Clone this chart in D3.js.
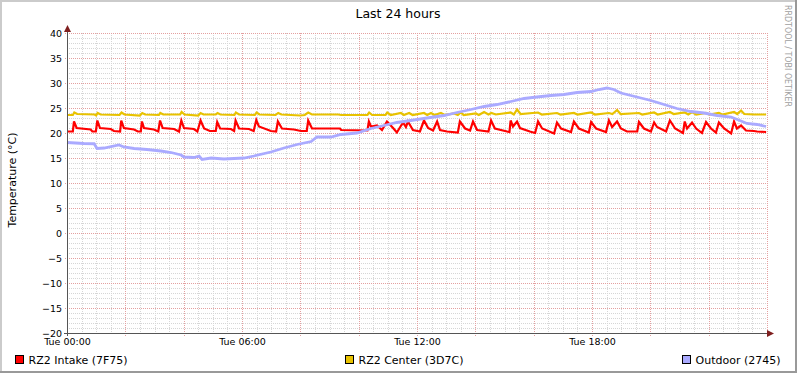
<!DOCTYPE html>
<html>
<head>
<meta charset="utf-8">
<script src="https://cdn.jsdelivr.net/npm/d3@7"></script>
<style>
body { margin: 0; background: #fff; }
svg { display: block; }
text { font-family: "DejaVu Sans", sans-serif; }
</style>
</head>
<body>
<svg width="797" height="373"></svg>
<script>
var title = "Last 24 hours";
var yLabel = "Temperature (°C)";
var watermark = "RRDTOOL / TOBI OETIKER";
var seriesNames = ["RZ2 Intake (7F75)", "RZ2 Center (3D7C)", "Outdoor (2745)"];
var seriesColors = ["#ff0000", "#e8c200", "#aaaaff"];
var yTicks = [-20, -15, -10, -5, 0, 5, 10, 15, 20, 25, 30, 35, 40];

// [hour since Tue 00:00, degrees]
var intake = [
  [0.00,20.3],[0.20,20.3],[0.24,22.3],[0.33,21.0],[0.81,20.7],[0.87,20.3],[0.99,20.3],
  [1.04,22.5],[1.13,21.0],[1.50,20.8],[1.61,20.4],[1.82,20.3],
  [1.86,22.5],[1.95,21.0],[2.30,20.7],[2.43,20.3],[2.53,20.3],
  [2.57,22.3],[2.64,21.0],[2.98,20.7],[3.13,20.3],
  [3.19,22.5],[3.28,21.0],[3.67,20.8],[3.84,20.3],
  [3.92,22.5],[4.01,21.0],[4.35,20.8],[4.47,20.3],
  [4.58,22.5],[4.70,20.9],[4.90,20.4],[5.10,20.4],
  [5.15,22.2],[5.25,20.9],[5.62,20.8],[5.73,20.4],
  [5.78,22.5],[5.90,20.9],[6.24,20.8],[6.40,20.4],
  [6.49,22.6],[6.58,21.3],[6.99,20.4],[7.17,20.3],
  [7.23,22.3],[7.37,20.9],[7.78,20.7],[8.02,20.4],[8.22,20.4],
  [8.27,22.5],[8.40,20.9],[9.36,20.9],[9.40,20.6],[10.30,20.5],
  [10.35,22.3],[10.42,21.3],[10.63,21.5],[10.80,20.6],
  [10.97,22.3],[11.18,21.0],[11.31,20.1],
  [11.52,22.1],[11.62,21.2],[11.69,22.3],[11.86,20.6],[12.10,20.3],
  [12.24,22.5],[12.38,21.0],[12.55,20.5],
  [12.69,22.3],[12.79,20.6],[13.03,20.3],[13.40,20.1],
  [13.47,22.3],[13.65,20.9],[13.82,20.5],
  [13.92,22.3],[14.06,20.6],[14.45,20.3],
  [14.54,22.5],[14.67,20.9],[15.09,20.3],[15.17,20.2],
  [15.21,22.5],[15.29,21.3],[15.43,22.3],[15.53,21.0],[15.87,20.3],[16.05,20.0],
  [16.15,22.3],[16.29,20.9],[16.70,19.9],
  [16.80,22.1],[16.94,20.9],[17.28,20.2],
  [17.38,22.3],[17.55,20.9],[17.89,20.1],
  [17.97,22.2],[18.14,20.9],[18.48,20.2],
  [18.58,22.5],[18.69,21.2],[18.86,22.3],[18.99,20.9],[19.20,20.3],[19.55,20.3],
  [19.61,22.2],[19.78,20.9],[20.02,20.3],
  [20.13,22.1],[20.23,21.2],[20.54,20.3],
  [20.67,22.5],[20.85,20.9],[21.12,20.0],
  [21.18,22.3],[21.26,20.9],[21.43,22.1],[21.57,20.9],[21.77,20.0],
  [21.91,22.2],[22.08,20.9],[22.25,20.1],
  [22.35,22.1],[22.53,20.9],[22.77,19.9],
  [22.87,22.3],[22.97,20.9],[23.11,21.5],[23.28,20.5],[23.55,20.4],[23.66,20.3],[23.97,20.2]
];

var center = [
  [0.00,23.6],[0.20,23.6],[0.25,24.1],[0.35,23.8],[0.95,23.7],[1.00,23.5],[1.05,24.0],[1.15,23.7],
  [1.80,23.6],[1.87,24.1],[1.97,23.7],[2.50,23.5],[2.58,24.0],[2.68,23.7],[3.15,23.6],[3.20,24.0],
  [3.30,23.7],[3.88,23.7],[3.93,24.2],[4.03,23.7],[4.50,23.5],[4.58,24.0],[4.68,23.7],[5.10,23.7],
  [5.16,24.0],[5.26,23.7],[5.74,23.6],[5.79,24.1],[5.90,23.7],[6.44,23.6],[6.50,24.1],[6.60,23.7],
  [7.15,23.6],[7.24,24.0],[7.35,23.7],[8.00,23.5],[8.15,23.6],[8.27,24.1],[8.40,23.7],[9.30,23.7],
  [9.40,23.6],[10.30,23.6],[10.36,24.1],[10.46,23.6],[10.92,23.6],[10.98,24.1],[11.10,23.6],
  [11.45,24.0],[11.55,23.6],[11.73,24.0],[11.85,23.6],[12.24,24.0],[12.35,23.6],[12.48,24.0],
  [12.60,23.6],[12.82,24.0],[12.95,23.6],[13.27,23.9],[13.40,23.6],[13.50,24.1],[13.60,23.6],
  [14.02,23.9],[14.12,23.6],[14.30,24.2],[14.45,23.7],[14.55,24.0],[14.70,23.7],[15.21,24.1],
  [15.32,23.7],[15.43,24.7],[15.55,23.8],[16.15,24.1],[16.28,23.7],[16.80,24.0],[16.92,23.7],
  [17.38,24.0],[17.50,23.7],[17.97,24.1],[18.10,23.7],[18.58,24.0],[18.70,23.8],[18.86,24.6],
  [18.98,23.8],[19.61,24.0],[19.72,23.7],[20.13,24.1],[20.25,23.7],[20.67,24.2],[20.80,23.8],
  [21.18,24.1],[21.30,23.7],[21.43,24.2],[21.57,23.7],[21.91,24.0],[22.02,23.7],[22.35,24.0],
  [22.47,23.7],[22.87,24.2],[22.98,23.8],[23.11,24.5],[23.22,23.8],[23.55,23.7],[23.97,23.7]
];

var outdoor = [
  [0.00,18.1],[0.58,17.9],[0.93,17.85],[1.03,16.9],[1.27,17.0],[1.78,17.6],[1.95,17.2],
  [2.30,16.9],[2.74,16.7],[3.22,16.4],[3.57,16.1],[3.91,15.6],[4.01,15.2],[4.35,15.1],
  [4.53,15.4],[4.63,14.7],[4.94,15.0],[5.38,14.8],[6.07,15.0],[6.41,15.4],[6.99,16.2],
  [7.44,17.0],[7.89,17.7],[8.37,18.3],[8.57,19.2],[9.05,19.2],[9.39,19.7],[9.94,20.0],
  [10.42,20.9],[10.87,21.5],[11.31,22.1],[11.79,22.5],[12.34,23.0],[12.93,23.5],[13.37,24.1],
  [13.85,24.7],[14.30,25.3],[14.74,25.7],[15.22,26.3],[15.67,26.9],[16.11,27.2],[16.59,27.5],
  [17.04,27.7],[17.49,28.1],[17.97,28.3],[18.24,28.7],[18.51,29.0],[18.75,28.7],[18.99,28.0],
  [19.54,27.2],[20.02,26.5],[20.47,25.7],[20.91,24.9],[21.39,24.3],[21.84,24.0],[22.29,23.5],
  [22.77,23.2],[23.11,22.4],[23.31,21.9],[23.66,21.7],[23.97,21.3]
];

var series = [intake, center, outdoor];
var lineWidths = [2.2, 2.2, 2.8];

var svg = d3.select("svg");
var plotLeft = 67, plotRight = 767, plotTop = 33, plotBottom = 333;

var day = new Date(2024, 0, 2);   // a Tuesday
var toDate = function(h) { return new Date(day.getTime() + h * 3600000); };

var x = d3.scaleTime().domain([day, toDate(24)]).range([plotLeft, plotRight]);
var y = d3.scaleLinear().domain([-20, 40]).range([plotBottom, plotTop]);

// frame
svg.append("rect").attr("width", 797).attr("height", 373).attr("fill", "#fff");
svg.append("path").attr("d", "M1,372V1H796").attr("fill", "none").attr("stroke", "#cbcbcb").attr("stroke-width", 2);
svg.append("path").attr("d", "M0,372H796V0").attr("fill", "none").attr("stroke", "#999").attr("stroke-width", 2);

// grid
var grid = svg.append("g").attr("shape-rendering", "crispEdges");
var px = function(v) { return Math.round(v) + 0.5; };

var minorY = d3.range(-19, 40).filter(function(v) { return v % 5 != 0; });
grid.selectAll(".gy").data(minorY).enter().append("line")
  .attr("x1", plotLeft).attr("x2", plotRight)
  .attr("y1", function(d) { return px(y(d)); }).attr("y2", function(d) { return px(y(d)); })
  .attr("stroke", "#d6d6d6").attr("stroke-dasharray", "1,1");

var minorX = d3.timeMinute.every(30).range(toDate(0.5), toDate(24.01)).filter(function(d) { return d.getHours() % 2 || d.getMinutes(); });
grid.selectAll(".gx").data(minorX).enter().append("line")
  .attr("x1", function(d) { return px(x(d)); }).attr("x2", function(d) { return px(x(d)); })
  .attr("y1", plotTop).attr("y2", plotBottom + 2)
  .attr("stroke", "#d6d6d6").attr("stroke-dasharray", "1,1");

grid.selectAll(".my").data(yTicks.slice(1)).enter().append("line")
  .attr("x1", plotLeft - 2).attr("x2", plotRight)
  .attr("y1", function(d) { return px(y(d)); }).attr("y2", function(d) { return px(y(d)); })
  .attr("stroke", "#e4a0a0").attr("stroke-dasharray", "1,1");

var majorX = d3.timeHour.every(2).range(toDate(2), toDate(24.01));
grid.selectAll(".mx").data(majorX).enter().append("line")
  .attr("x1", function(d) { return px(x(d)); }).attr("x2", function(d) { return px(x(d)); })
  .attr("y1", plotTop).attr("y2", plotBottom + 3)
  .attr("stroke", "#e4a0a0").attr("stroke-dasharray", "1,1");

// series
var line = d3.line()
  .x(function(d) { return x(toDate(d[0])); })
  .y(function(d) { return y(d[1]); });

svg.selectAll(".series").data(series).enter().append("path")
  .attr("d", line)
  .attr("fill", "none")
  .attr("stroke", function(d, i) { return seriesColors[i]; })
  .attr("stroke-width", function(d, i) { return lineWidths[i]; })
  .attr("stroke-linejoin", "miter");

// axes lines + arrows
svg.append("line").attr("x1", plotLeft - 3).attr("x2", 770).attr("y1", plotBottom + 0.5).attr("y2", plotBottom + 0.5)
  .attr("stroke", "#555").attr("shape-rendering", "crispEdges");
svg.append("line").attr("x1", plotLeft + 0.5).attr("x2", plotLeft + 0.5).attr("y1", plotBottom + 3).attr("y2", 29)
  .attr("stroke", "#555").attr("shape-rendering", "crispEdges");
svg.append("path").attr("d", "M767,330L774,333.5L767,337Z").attr("fill", "#7f1f1f");
svg.append("path").attr("d", "M64,32L67.5,25L71,32Z").attr("fill", "#7f1f1f");

// tick labels
var xAxis = svg.append("g").attr("transform", "translate(0," + plotBottom + ")")
  .call(d3.axisBottom(x).ticks(d3.timeHour.every(6)).tickFormat(d3.timeFormat("%a %H:%M")).tickSize(0).tickPadding(5));
var yAxis = svg.append("g").attr("transform", "translate(" + plotLeft + ",0)")
  .call(d3.axisLeft(y).tickValues(yTicks).tickSize(0).tickPadding(5));
[xAxis, yAxis].forEach(function(a) {
  a.select(".domain").remove();
  a.selectAll("text").attr("font-size", "9.5px").attr("fill", "#000").attr("font-family", "DejaVu Sans");
});
xAxis.selectAll(".tick").filter(function(d) { return +d >= +toDate(24); }).remove();

// title and labels
svg.append("text").attr("x", 398).attr("y", 18).attr("text-anchor", "middle")
  .attr("font-size", "12.5px").attr("fill", "#000").text(title);
svg.append("text").attr("transform", "translate(16,180) rotate(-90)").attr("text-anchor", "middle")
  .attr("font-size", "11px").attr("fill", "#000").text(yLabel);
svg.append("text").attr("transform", "translate(785,5) rotate(90)")
  .attr("font-size", "9px").attr("fill", "#a0a0a0")
  .attr("textLength", 102).attr("lengthAdjust", "spacingAndGlyphs").text(watermark);

// legend
var legendX = [15.5, 345.5, 682.5];
var legend = svg.selectAll(".legend").data(seriesNames).enter().append("g")
  .attr("transform", function(d, i) { return "translate(" + legendX[i] + ",355.5)"; });
legend.append("rect").attr("width", 8).attr("height", 8)
  .attr("fill", function(d, i) { return seriesColors[i]; }).attr("stroke", "#000");
legend.append("text").attr("x", 13).attr("y", 8).attr("font-size", "11px").attr("fill", "#000")
  .text(function(d) { return d; });
</script>
</body>
</html>
